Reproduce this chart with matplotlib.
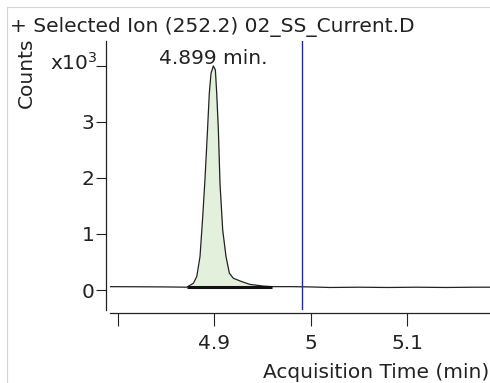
import numpy as np
import matplotlib.pyplot as plt
from matplotlib.lines import Line2D

# chromatogram trace (time in min, counts in x10^3)
times = [4.7922, 4.82, 4.85, 4.8717, 4.8786, 4.8821, 4.8855, 4.8883, 4.8907,
         4.8931, 4.8951, 4.8969, 4.8993, 4.9014, 4.9028, 4.9045, 4.9062,
         4.909, 4.9124, 4.9159, 4.92, 4.9287, 4.9373, 4.9511, 4.9598,
         4.98, 5.0, 5.02, 5.05, 5.08, 5.11, 5.14, 5.17, 5.186]
counts = [0.06, 0.058, 0.055, 0.05, 0.12, 0.24, 0.6, 1.31, 2.0,
          2.8, 3.51, 3.87, 4.0, 3.93, 3.51, 2.86, 1.9,
          1.07, 0.6, 0.3, 0.21, 0.15, 0.10, 0.07, 0.06,
          0.06, 0.055, 0.045, 0.05, 0.045, 0.05, 0.045, 0.05, 0.05]

peak_start = 4.8717
peak_end = 4.9598
peak_base = 0.05
peak_rt = 4.899
marker_time = 4.991

title = '+ Selected Ion (252.2) 02_SS_Current.D'
xticks = [4.8, 4.9, 5.0, 5.1]
xticklabels = ['', '4.9', '5', '5.1']
yticks = [0, 1, 2, 3, 4]
yticklabels = ['0', '1', '2', '3', '']

fs = 14.5
fig = plt.figure(figsize=(4.9, 3.83), dpi=100)
ax = fig.add_axes([110/490, 1-310/383, 380/490, 269/383])

t = np.array(times)
c = np.array(counts)
m = (t >= peak_start) & (t <= peak_end)
ax.fill_between(t[m], peak_base, c[m], color='#e3f0dc', lw=0)
ax.plot(t, c, color='#222222', lw=0.9)
ax.plot([peak_start, peak_end], [peak_base, peak_base], color='#111111', lw=2.2,
        solid_capstyle='butt')
ax.axvline(marker_time, color='#26299a', lw=1.0)

ax.text(peak_rt, 4.04, '4.899 min.', ha='center', va='baseline', fontsize=fs,
        color='#222222')

ax.set_xlim(4.7922, 5.186)
ax.set_ylim(-0.357, 4.446)
ax.set_xticks(xticks)
ax.set_xticklabels(xticklabels)
ax.set_yticks(yticks)
ax.set_yticklabels(yticklabels)

for s in ['top', 'right']:
    ax.spines[s].set_visible(False)
ax.spines['left'].set_position(('outward', 3))
ax.spines['bottom'].set_position(('outward', 2))
for s in ['left', 'bottom']:
    ax.spines[s].set_color('#222222')
    ax.spines[s].set_linewidth(0.9)
ax.tick_params(axis='y', direction='out', length=7.2, width=0.8, labelsize=fs,
               pad=1, colors='#222222')
ax.tick_params(axis='x', direction='out', length=9, width=0.8, labelsize=fs,
               pad=6, colors='#222222')

fig.text(10/490, 1-27/383, title, ha='left', va='center', fontsize=fs,
         color='#222222')
fig.text(26/490, 1-73/383, 'Counts', rotation=90, ha='center', va='center',
         fontsize=fs, color='#222222')
fig.text(50/490, 1-63/383, r'x10$^3$', ha='left', va='center',
         fontsize=fs, color='#222222')
fig.text(489/490, 1-372/383, 'Acquisition Time (min)', ha='right', va='center',
         fontsize=fs, color='#222222')

# faint frame lines at top and left
fig.add_artist(Line2D([7/490, 1], [1-7/383, 1-7/383], color='#d4d4d4', lw=0.8))
fig.add_artist(Line2D([7/490, 7/490], [0, 1-7/383], color='#d4d4d4', lw=0.8))

fig.savefig('out.png', dpi=100)
